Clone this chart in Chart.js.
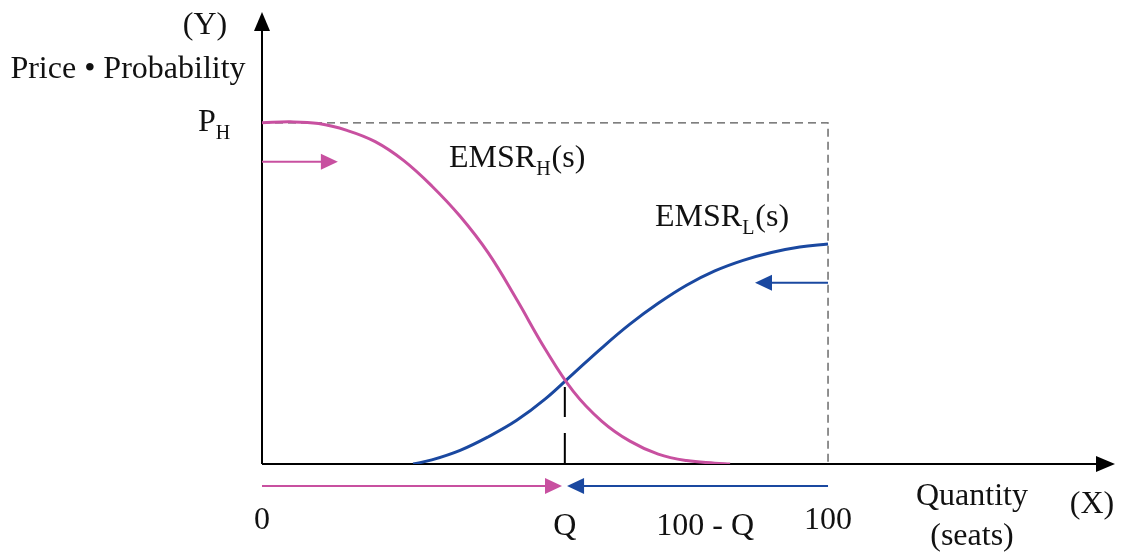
<!DOCTYPE html>
<html>
<head>
<meta charset="utf-8">
<script src="https://cdn.jsdelivr.net/npm/chart.js@4/dist/chart.umd.min.js"></script>
<style>
  html, body { margin: 0; padding: 0; background: #fff; }
  #wrap { width: 1123px; height: 554px; }
</style>
</head>
<body>
<div id="wrap"><canvas id="emsrChart"></canvas></div>
<script>
// seats (x) and price * probability (y), P_H = 100
var highX = [0, 5, 10, 15, 20, 25, 30, 35, 40, 45, 50, 55, 60, 65, 70, 75, 80, 82.7];
var highY = [100, 100.3, 99.8, 97.8, 94.5, 89, 81.5, 72.6, 61.8, 48.2, 33.8, 21.3, 12.6, 6.7, 2.9, 1.0, 0.25, 0];
var lowX = [26.7, 30, 35, 40, 45, 50, 55, 60, 65, 70, 75, 80, 85, 90, 95, 100];
var lowY = [0, 1.2, 4, 8, 12.8, 19, 26.5, 34, 41, 47.1, 52.4, 56.6, 59.7, 62, 63.6, 64.5];

var pH = 100;
var capacity = 100;
var qValue = 53.5;
var tickValues = [0, 53.5, 78.3, 100];
var tickLabels = ['0', 'Q', '100 - Q', '100'];

var pink = 'rgb(200, 80, 160)';
var blue = 'rgb(26, 72, 160)';
var serif = '"Liberation Serif", "DejaVu Serif", serif';

function toPoints(xs, ys) {
  return xs.map(function (x, i) { return { x: x, y: ys[i] }; });
}

function arrowHead(ctx, x, y, dir, len, half, color) {
  ctx.fillStyle = color;
  ctx.beginPath();
  if (dir === 'right') {
    ctx.moveTo(x, y); ctx.lineTo(x - len, y - half); ctx.lineTo(x - len, y + half);
  } else if (dir === 'left') {
    ctx.moveTo(x, y); ctx.lineTo(x + len, y - half); ctx.lineTo(x + len, y + half);
  } else {
    ctx.moveTo(x, y); ctx.lineTo(x - half, y + len); ctx.lineTo(x + half, y + len);
  }
  ctx.closePath();
  ctx.fill();
}

function hArrow(ctx, x0, x1, y, color, width) {
  ctx.strokeStyle = color;
  ctx.lineWidth = width;
  ctx.setLineDash([]);
  ctx.beginPath();
  var dir = x1 > x0 ? 'right' : 'left';
  var stop = dir === 'right' ? x1 - 12 : x1 + 12;
  ctx.moveTo(x0, y); ctx.lineTo(stop, y); ctx.stroke();
  arrowHead(ctx, x1, y, dir, 17, 8, color);
}

function subText(ctx, main, sub, after, x, y, size) {
  ctx.textAlign = 'left';
  ctx.textBaseline = 'alphabetic';
  ctx.font = size + 'px ' + serif;
  ctx.fillText(main, x, y);
  var w = ctx.measureText(main).width;
  ctx.font = '20px ' + serif;
  ctx.fillText(sub, x + w, y + 8);
  var w2 = ctx.measureText(sub).width;
  if (after) {
    ctx.font = size + 'px ' + serif;
    ctx.fillText(after, x + w + w2 + 1, y);
  }
}

var decorPlugin = {
  id: 'decor',
  beforeDatasetsDraw: function (chart) {
    var ctx = chart.ctx, xs = chart.scales.x, ys = chart.scales.y, a = chart.chartArea;
    ctx.save();
    // dashed P_H level and capacity line
    ctx.strokeStyle = '#555';
    ctx.lineWidth = 1.3;
    ctx.setLineDash([8, 5]);
    ctx.beginPath();
    ctx.moveTo(xs.getPixelForValue(0), ys.getPixelForValue(pH));
    ctx.lineTo(xs.getPixelForValue(capacity), ys.getPixelForValue(pH));
    ctx.lineTo(xs.getPixelForValue(capacity), ys.getPixelForValue(0));
    ctx.stroke();
    // dashed drop line at Q
    var qx = xs.getPixelForValue(qValue);
    ctx.strokeStyle = '#000';
    ctx.lineWidth = 2;
    ctx.setLineDash([30, 16]);
    ctx.beginPath();
    ctx.moveTo(qx, ys.getPixelForValue(22.6));
    ctx.lineTo(qx, ys.getPixelForValue(0));
    ctx.stroke();
    // axes
    ctx.setLineDash([]);
    ctx.lineWidth = 2;
    var ox = xs.getPixelForValue(0), oy = ys.getPixelForValue(0);
    ctx.beginPath();
    ctx.moveTo(ox, oy); ctx.lineTo(ox, a.top + 14);
    ctx.moveTo(ox, oy); ctx.lineTo(a.right - 14, oy);
    ctx.stroke();
    arrowHead(ctx, ox, a.top, 'up', 19, 8, '#000');
    arrowHead(ctx, a.right, oy, 'right', 19, 8, '#000');
    ctx.restore();
  },
  afterDatasetsDraw: function (chart) {
    var ctx = chart.ctx, xs = chart.scales.x, ys = chart.scales.y;
    ctx.save();
    // direction arrows
    hArrow(ctx, xs.getPixelForValue(0), xs.getPixelForValue(13.4), ys.getPixelForValue(88.6), pink, 2);
    hArrow(ctx, xs.getPixelForValue(100), xs.getPixelForValue(87.1), ys.getPixelForValue(53.1), blue, 2);
    var by = ys.getPixelForValue(0) + 22;
    hArrow(ctx, xs.getPixelForValue(0), xs.getPixelForValue(53.0), by, pink, 2);
    hArrow(ctx, xs.getPixelForValue(100), xs.getPixelForValue(53.9), by, blue, 2);

    // texts
    ctx.fillStyle = '#111';
    ctx.font = '32px ' + serif;
    ctx.textAlign = 'center';
    ctx.textBaseline = 'middle';
    ctx.fillText('(Y)', 205, 26);
    ctx.fillText('Price \u2022 Probability', 128, 70);
    ctx.fillText('Quantity', 972, 497);
    ctx.fillText('(seats)', 972, 537);
    ctx.fillText('(X)', 1092, 505);
    tickValues.forEach(function (v, i) {
      var ty = (tickLabels[i] === '0' || tickLabels[i] === '100') ? 521 : 527;
      ctx.fillText(tickLabels[i], xs.getPixelForValue(v), ty);
    });
    subText(ctx, 'P', 'H', '', 198, 131, 32);
    subText(ctx, 'EMSR', 'H', '(s)', 449, 167, 32);
    subText(ctx, 'EMSR', 'L', '(s)', 655, 226, 32);
    ctx.restore();
  }
};

var ctx = document.getElementById('emsrChart').getContext('2d');
var chart = new Chart(ctx, {
  type: 'line',
  data: {
    datasets: [
      {
        label: 'EMSR_H(s)',
        data: toPoints(highX, highY),
        borderColor: pink,
        borderWidth: 3,
        pointRadius: 0,
        tension: 0.4,
        fill: false
      },
      {
        label: 'EMSR_L(s)',
        data: toPoints(lowX, lowY),
        borderColor: blue,
        borderWidth: 3,
        pointRadius: 0,
        tension: 0.4,
        fill: false
      }
    ]
  },
  options: {
    responsive: true,
    maintainAspectRatio: false,
    animation: false,
    layout: { padding: { left: 262, right: 8, top: 12, bottom: 90 } },
    plugins: { legend: { display: false }, tooltip: { enabled: false } },
    scales: {
      x: { type: 'linear', min: 0, max: 150.7, display: false },
      y: { type: 'linear', min: 0, max: 132.5, display: false }
    }
  },
  plugins: [decorPlugin]
});
</script>
</body>
</html>
